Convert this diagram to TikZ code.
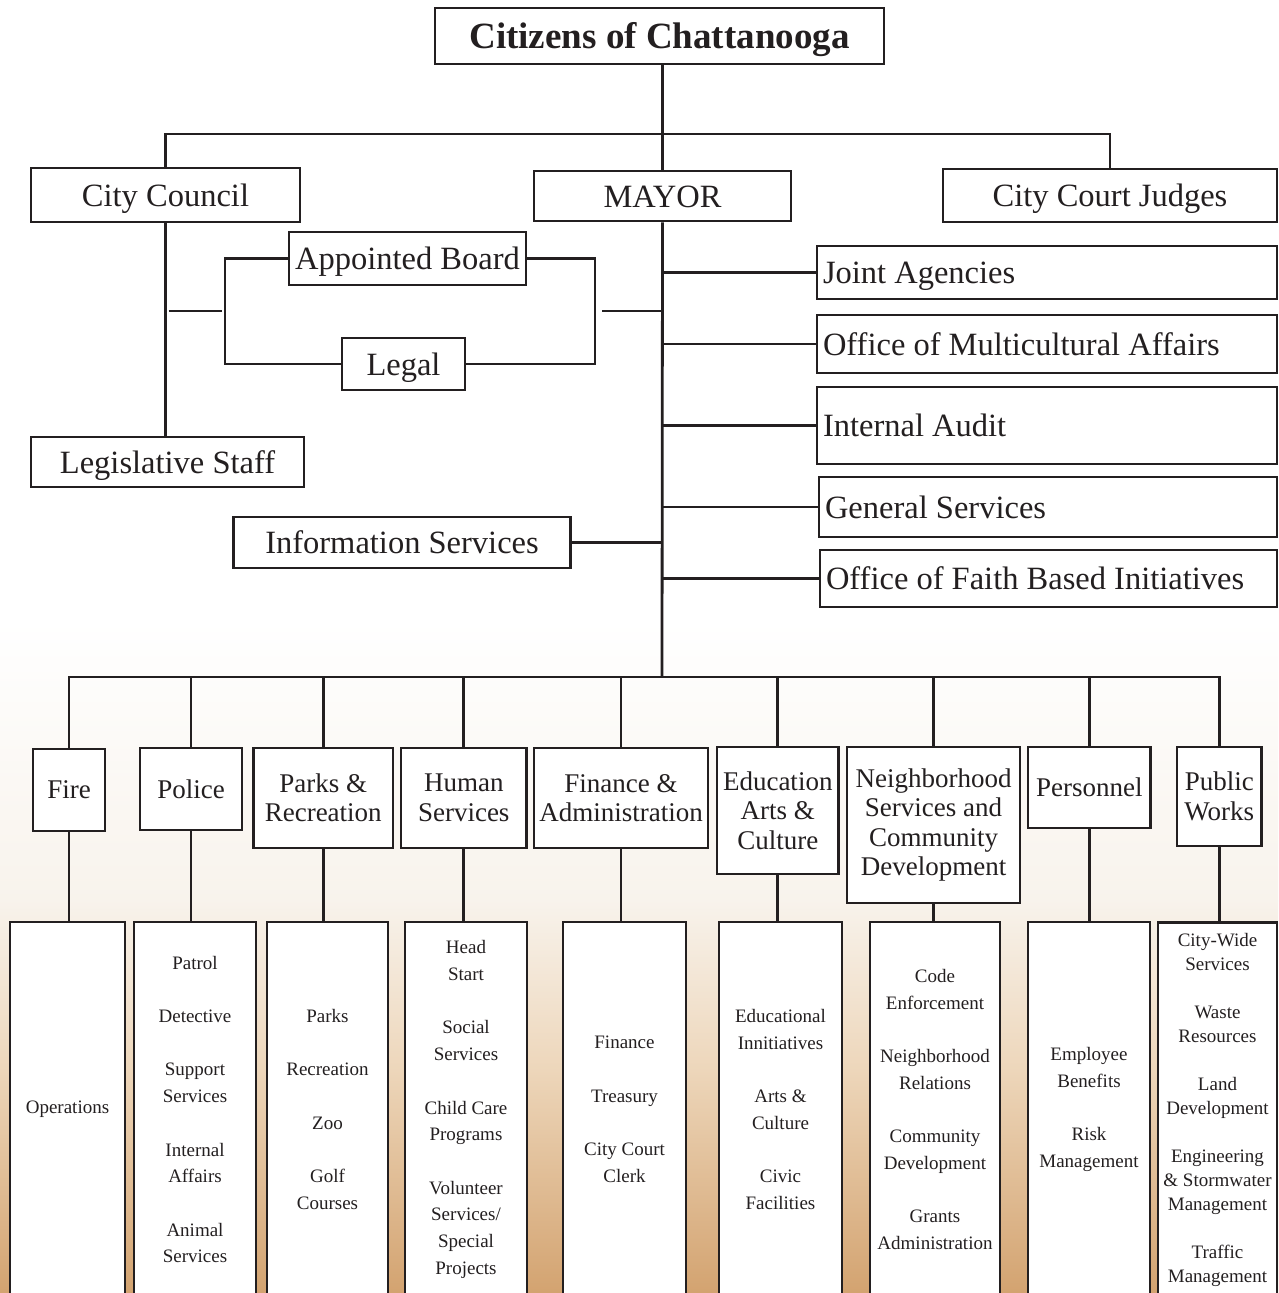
\documentclass[tikz,border=0pt]{standalone}
\usepackage{fontspec}
\setmainfont{Liberation Serif}
\definecolor{ink}{RGB}{35,31,32}
\definecolor{creamA}{RGB}{248,243,236}
\definecolor{tanM}{RGB}{237,214,186}
\definecolor{tanB}{RGB}{211,163,112}
\tikzset{
  box/.style={draw=ink, fill=white, line width=2.8pt, inner sep=0pt, align=center, text=ink},
  l1/.style={box, font=\fontsize{32.5}{34}\selectfont, text height=22pt, text depth=0pt},
  rbox/.style={l1, minimum width=460pt, text width=448pt, inner xsep=6pt, align=flush left},
  l2/.style={box, font=\fontsize{27}{29.5}\selectfont},
  sub/.style={box, font=\fontsize{19}{26.7}\selectfont, minimum height=375pt},
  subt/.style={box, font=\fontsize{19}{24}\selectfont, minimum height=375pt},
  conn/.style={draw=ink, line width=2.8pt}
}
\newcommand\gp{\\[26.7pt]}
\begin{document}
\begin{tikzpicture}[x=1pt,y=-1pt]
\clip (0,0) rectangle (1278,1293);
% background
\fill[white] (0,0) rectangle (1278,621);
\shade[top color=white, bottom color=creamA] (0,620) rectangle (1278,901);
\shade[top color=creamA, bottom color=tanM] (0,900) rectangle (1278,1071);
\shade[top color=tanM, bottom color=tanB] (0,1070) rectangle (1278,1293);

% level 0 and 1
\node[l1, minimum width=449pt, minimum height=56pt, font=\bfseries\fontsize{37}{40}\selectfont, text height=25pt] (citizens) at (659.5,36) {Citizens of Chattanooga};
\node[l1, minimum width=269pt, minimum height=54pt] (council) at (165.5,195) {City Council};
\node[l1, minimum width=257pt, minimum height=50pt] (mayor) at (662.5,196) {MAYOR};
\node[l1, minimum width=334pt, minimum height=53pt] (judges) at (1110,195.5) {City Court Judges};
\node[l1, minimum width=237pt, minimum height=53pt] (board) at (407.5,258.5) {Appointed Board};
\node[l1, minimum width=123pt, minimum height=52pt] (legal) at (403.5,364) {Legal};
\node[l1, minimum width=273pt, minimum height=50pt] (legstaff) at (167.5,462) {Legislative Staff};
\node[l1, minimum width=337pt, minimum height=51pt] (info) at (402,542.5) {Information Services};

\node[rbox, minimum height=53pt] (joint) at (1047,272.5) {Joint Agencies};
\node[rbox, minimum height=58pt] (multi) at (1047,344) {Office of Multicultural Affairs};
\node[rbox, minimum height=77pt] (audit) at (1047,425.5) {Internal Audit};
\node[rbox, minimum height=60pt, minimum width=458pt, text width=446pt] (general) at (1048,507) {General Services};
\node[rbox, minimum height=57pt, minimum width=457pt, text width=445pt] (faith) at (1048.5,578.5) {Office of Faith Based Initiatives};

% level 2
\node[l2, minimum width=72pt, minimum height=82pt] (fire) at (69,790) {Fire};
\node[l2, minimum width=102pt, minimum height=82pt] (police) at (191,789) {Police};
\node[l2, minimum width=139.5pt, minimum height=100pt] (parks) at (323.25,798) {Parks \&\\Recreation};
\node[l2, minimum width=125.5pt, minimum height=100pt] (human) at (463.75,798) {Human\\Services};
\node[l2, minimum width=174pt, minimum height=100pt] (finance) at (621,798) {Finance \&\\Administration};
\node[l2, minimum width=121.5pt, minimum height=127pt] (edu) at (777.75,810.5) {Education\\Arts \&\\Culture};
\node[l2, minimum width=173pt, minimum height=156pt] (neigh) at (933.5,825) {Neighborhood\\Services and\\Community\\Development};
\node[l2, minimum width=122.6pt, minimum height=81pt] (pers) at (1089.3,787.5) {Personnel};
\node[l2, minimum width=84.6pt, minimum height=99pt] (pw) at (1219.3,796.5) {Public\\Works};

% level 3
\node[sub, minimum width=115pt] (ops) at (67.5,1109.5) {Operations};
\node[sub, minimum width=122pt] (polsub) at (195,1109.5) {Patrol\gp Detective\gp Support\\Services\gp Internal\\Affairs\gp Animal\\Services};
\node[sub, minimum width=121pt] (parksub) at (327.5,1109.5) {Parks\gp Recreation\gp Zoo\gp Golf\\Courses};
\node[sub, minimum width=122pt] (humsub) at (466,1109.5) {Head\\Start\gp Social\\Services\gp Child Care\\Programs\gp Volunteer\\Services/\\Special\\Projects};
\node[sub, minimum width=123pt] (finsub) at (624.5,1109.5) {Finance\gp Treasury\gp City Court\\Clerk};
\node[sub, minimum width=123pt] (edusub) at (780.5,1109.5) {Educational\\Innitiatives\gp Arts \&\\Culture\gp Civic\\Facilities};
\node[sub, minimum width=130pt] (neighsub) at (935,1109.5) {Code\\Enforcement\gp Neighborhood\\Relations\gp Community\\Development\gp Grants\\Administration};
\node[sub, minimum width=122pt] (perssub) at (1089,1109.5) {Employee\\Benefits\gp Risk\\Management};
\node[subt, minimum width=119pt] (pwsub) at (1217.5,1110) {City-Wide\\Services\\[24pt]Waste\\Resources\\[24pt]Land\\Development\\[24pt]Engineering\\\& Stormwater\\Management\\[24pt]Traffic\\Management};

% connectors top
\coordinate (bus1) at (662,134);
\coordinate (bus2) at (662,677);
\coordinate (bl) at (225,311);
\coordinate (br) at (595,311);
\draw[conn] (citizens.south -| mayor.north) -- (mayor.north);
\draw[conn] (council.north) |- (bus1) -| (judges.north);
\draw[conn] (council.south) -- (council.south |- legstaff.north);
\draw[conn] (board.west) -| (bl) |- (legal.west);
\draw[conn] (board.east) -| (br) |- (legal.east);
\draw[conn] ([xshift=3pt]council.south |- bl) -- ([xshift=-3pt]bl);
\draw[conn] ([xshift=7pt]br) -- ([xshift=-2pt]mayor.south |- br);
\draw[conn] (mayor.south) -- (bus2);
\foreach \n in {joint,multi,audit,general,faith}
  \draw[conn] (mayor.south |- \n.west) -- (\n.west);
\draw[conn] (info.east) -- (info.east -| mayor.south);

% connectors level 2
\draw[conn] (fire.north) |- (bus2) -| (pw.north);
\foreach \n in {police,parks,human,finance,edu,neigh,pers}
  \draw[conn] (\n.north) -- (\n.north |- bus2);
\draw[conn] (fire.south) -- (fire.south |- ops.north);
\draw[conn] (police.south) -- (police.south |- polsub.north);
\draw[conn] (parks.south) -- (parks.south |- parksub.north);
\draw[conn] (human.south) -- (human.south |- humsub.north);
\draw[conn] (finance.south) -- (finance.south |- finsub.north);
\draw[conn] (edu.south) -- (edu.south |- edusub.north);
\draw[conn] (neigh.south) -- (neigh.south |- neighsub.north);
\draw[conn] (pers.south) -- (pers.south |- perssub.north);
\draw[conn] (pw.south) -- (pw.south |- pwsub.north);
\end{tikzpicture}
\end{document}
